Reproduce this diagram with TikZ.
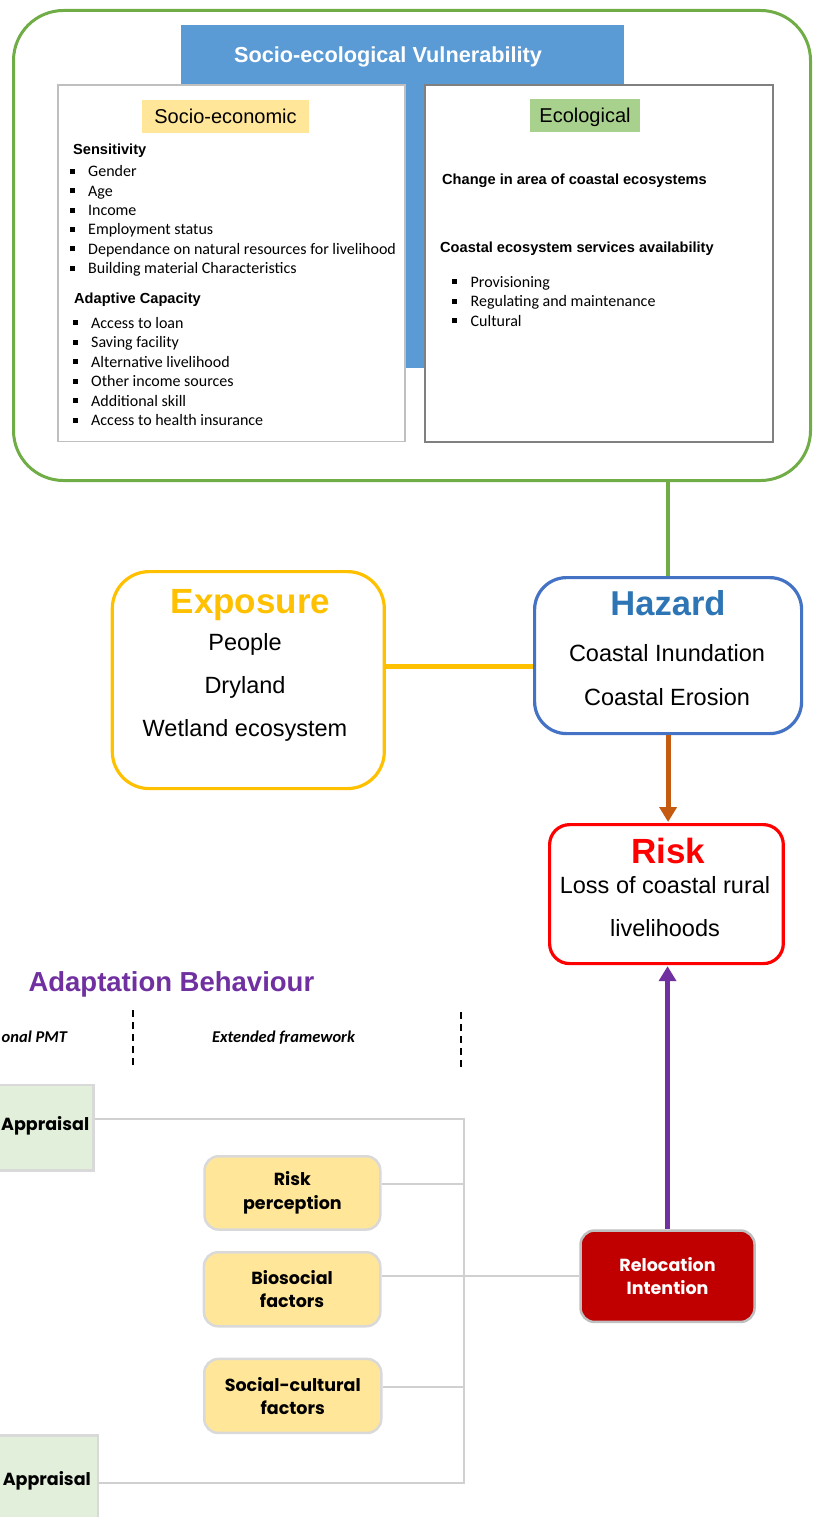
\documentclass[tikz,border=0pt]{standalone}
\usepackage{fontspec}
\setmainfont{Liberation Sans}
\newfontfamily\carlito{Carlito}
\newfontfamily\gothic{Poppins}
\usetikzlibrary{arrows.meta}

\definecolor{svgreen}{HTML}{70AD47}
\definecolor{svblue}{HTML}{5B9BD5}
\definecolor{seyellow}{HTML}{FFE699}
\definecolor{ecogreen}{HTML}{A9D18E}
\definecolor{hzborder}{HTML}{4472C4}
\definecolor{hztext}{HTML}{2E75B6}
\definecolor{exorange}{HTML}{FFC000}
\definecolor{rkred}{HTML}{FF0000}
\definecolor{arrorange}{HTML}{C55A11}
\definecolor{abpurple}{HTML}{7030A0}
\definecolor{pmtgreen}{HTML}{E2EFDA}
\definecolor{softgray}{HTML}{D9D9D9}
\definecolor{busgray}{HTML}{D0D0D0}
\definecolor{reldark}{HTML}{C00000}
\definecolor{relborder}{HTML}{BFBFBF}

\newcommand\fs[2]{\fontsize{#1}{#2}\selectfont}
\newcommand\sqb{\makebox[18.5pt][l]{\rule[2.8pt]{5pt}{5pt}}}

\begin{document}
\begin{tikzpicture}[x=1pt,y=-1pt,
  panel/.style={inner sep=0pt,anchor=north west},
  txt/.style={inner sep=0pt,anchor=base},
  ltxt/.style={inner sep=0pt,anchor=base west},
  heading/.style={ltxt,font=\bfseries\fs{14.6}{17}},
  listitem/.style={ltxt,font=\carlito\fs{16}{19}},
  bodytxt/.style={txt,font=\fs{23.5}{27}},
  bigbox/.style={panel,draw,fill=white,line width=3.2pt},
  factorbox/.style={panel,draw=softgray,fill=seyellow,line width=2.5pt,rounded corners=14pt,
    align=center,font=\gothic\bfseries\fs{17.5}{23.5}},
  pmtbox/.style={panel,draw=softgray,fill=pmtgreen,line width=2.5pt},
  bus/.style={draw=busgray,line width=2.3pt},
  dashline/.style={draw=black,line width=2pt,dash pattern=on 7pt off 5pt},
  bigarrow/.style={line width=5pt,-{Triangle[width=17pt,length=15pt]}}
]
\useasboundingbox (0,0) rectangle (812,1517);
\clip (0,0) rectangle (812,1517);

% ---------- socio-ecological vulnerability ----------
\node[panel,draw=svgreen,line width=3pt,rounded corners=50pt,
      minimum width=797pt,minimum height=470pt] (svbox) at (12,9) {};
\node[panel,fill=svblue,minimum width=443pt,minimum height=343pt] (svband) at (181,25) {};
\node[txt,text=white,font=\bfseries\fs{21.7}{25}] (svtitle) at (388,62.5) {Socio-ecological Vulnerability};

\node[panel,draw=relborder,fill=white,line width=1.6pt,
      minimum width=347pt,minimum height=356pt] (sebox) at (57,84.5) {};
\node[panel,draw=black!50,fill=white,line width=2pt,
      minimum width=348pt,minimum height=356pt] (ecobox) at (424,84.5) {};

\node[inner sep=0pt,fill=seyellow,minimum width=167pt,minimum height=33pt,
      text height=14pt,text depth=0pt,font=\fs{20}{24}] (selabel) at (225.5,116.5) {Socio-economic};
\node[inner sep=0pt,fill=ecogreen,minimum width=110pt,minimum height=33pt,
      text height=14pt,text depth=0pt,font=\fs{20}{24}] (ecolabel) at (585,115.5) {Ecological};

\node[heading] (senshead) at (73,155) {Sensitivity};
\foreach \t [count=\i] in {Gender, Age, Income, Employment status,
    Dependance on natural resources for livelihood, Building material Characteristics}
  \node[listitem] (sens\i) at (69.5,{176.8+19.35*(\i-1)}) {\sqb\t};

\node[heading] (adapthead) at (74,303) {Adaptive Capacity};
\foreach \t [count=\i] in {Access to loan, Saving facility, Alternative livelihood,
    Other income sources, Additional skill, Access to health insurance}
  \node[listitem] (adapt\i) at (72.5,{328+19.5*(\i-1)}) {\sqb\t};

\node[heading] (ecohead1) at (442,185) {Change in area of coastal ecosystems};
\node[heading] (ecohead2) at (440,252) {Coastal ecosystem services availability};
\foreach \t [count=\i] in {Provisioning, Regulating and maintenance, Cultural}
  \node[listitem] (eco\i) at (452,{287+19.5*(\i-1)}) {\sqb\t};

% ---------- hazard, exposure, risk ----------
\node[bigbox,draw=hzborder,rounded corners=32pt,
      minimum width=267pt,minimum height=156pt] (hazard) at (533,576) {};
\node[txt,text=hztext,font=\bfseries\fs{34.5}{40}] (hztitle) at (668,615) {Hazard};
\node[bodytxt] (hz1) at (667,661.7) {Coastal Inundation};
\node[bodytxt] (hz2) at (667,705) {Coastal Erosion};

\node[bigbox,draw=exorange,rounded corners=37pt,
      minimum width=272pt,minimum height=217pt] (expo) at (110.7,570) {};
\node[txt,text=exorange,font=\bfseries\fs{35}{40}] (extitle) at (250.5,613.3) {Exposure};
\node[bodytxt] (ex1) at (245,650.7) {People};
\node[bodytxt] (ex2) at (245,693.3) {Dryland};
\node[bodytxt] (ex3) at (245,736) {Wetland ecosystem};

\node[bigbox,draw=rkred,rounded corners=20pt,
      minimum width=233.7pt,minimum height=139pt] (risk) at (548,823) {};
\node[txt,text=rkred,font=\bfseries\fs{35}{40}] (rktitle) at (668,863.3) {Risk};
\node[bodytxt] (rk1) at (665,893.3) {Loss of coastal rural};
\node[bodytxt] (rk2) at (665,936.7) {livelihoods};

\draw[svgreen,line width=3.3pt] (hazard.north |- svbox.south) -- (hazard.north);
\draw[exorange,line width=4.7pt] ([yshift=13.5pt]expo.east) coordinate (exj) -- (exj -| hazard.west);
\draw[bigarrow,arrorange] (hazard.south) -- ([yshift=1pt]hazard.south |- risk.north);

% ---------- adaptation behaviour ----------
\node[ltxt,text=abpurple,font=\bfseries\fs{27.5}{32}] (abtitle) at (28.3,991.7) {Adaptation Behaviour};
\node[ltxt,font=\carlito\bfseries\itshape\fs{16.5}{20}] (pmt) at (1.5,1042.7) {onal PMT};
\node[txt,font=\carlito\bfseries\itshape\fs{16.5}{20}] (extfw) at (283.5,1042.7) {Extended framework};

\coordinate (d1a) at (132.7,1010);
\coordinate (d1b) at (132.7,1068);
\coordinate (d2a) at (461,1012);
\coordinate (d2b) at (461,1070);
\draw[dashline] (d1a) -- (d1b);
\draw[dashline] (d2a) -- (d2b);

\node[pmtbox,minimum width=152pt,minimum height=85.5pt] (threat) at (-60,1083.5) {};
\node[ltxt,font=\gothic\bfseries\fs{17.5}{22}] (threattxt) at (1,1130) {Appraisal};
\node[pmtbox,minimum width=156.7pt,minimum height=130pt] (coping) at (-60,1434) {};
\node[inner sep=0pt,anchor=base east,font=\gothic\bfseries\fs{17.5}{22}] (copingtxt) at (91,1485) {Appraisal};

\node[factorbox,minimum width=175.7pt,minimum height=73.3pt] (riskp) at (203.3,1155) {Risk\\perception};
\node[factorbox,minimum width=176.3pt,minimum height=74pt] (bio) at (202.7,1251) {Biosocial\\factors};
\node[factorbox,minimum width=177pt,minimum height=74pt] (soc) at (203,1357.7) {Social-cultural\\factors};

\node[panel,draw=relborder,fill=reldark,line width=2.5pt,rounded corners=14pt,
      minimum width=174pt,minimum height=91.4pt,text=white,align=center,
      font=\gothic\bfseries\fs{17.5}{23.5}] (reloc) at (579.3,1229.3) {Relocation\\Intention};

\coordinate (busT) at (464,1119);
\coordinate (busB) at (464,1483);
\draw[bus] (threat.east |- busT) -- (busT) -- (busB) -- (coping.east |- busB);
\draw[bus] ([yshift=9pt]riskp.east) coordinate (rpj) -- (rpj -| busT);
\draw[bus] (bio.east |- reloc.west) -- (reloc.west);
\draw[bus] ([yshift=8.7pt]soc.east) coordinate (scj) -- (scj -| busT);

\draw[bigarrow,abpurple] (reloc.north) -- ([yshift=-1pt]reloc.north |- risk.south);
\end{tikzpicture}
\end{document}
